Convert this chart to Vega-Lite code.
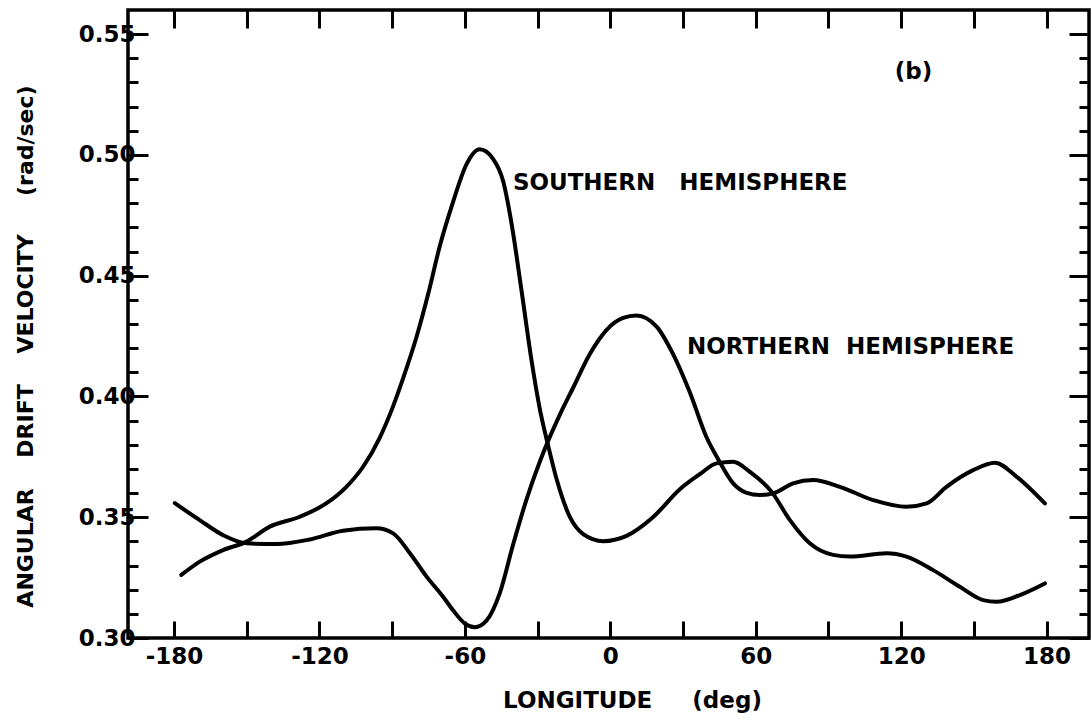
{
  "$schema": "https://vega.github.io/schema/vega-lite/v6.json",
  "width": 961,
  "height": 628,
  "autosize": "none",
  "padding": {"left": 128, "top": 10, "right": 2, "bottom": 83},
  "background": "white",
  "config": {
    "view": {"stroke": "black", "strokeWidth": 3.5},
    "font": "DejaVu Sans",
    "axis": {"domain": false, "grid": false, "tickColor": "black", "tickWidth": 3, "labelColor": "black", "titleColor": "black", "labelFont": "DejaVu Sans", "titleFont": "DejaVu Sans", "labelFontWeight": "bold", "titleFontWeight": "bold"}
  },
  "datasets": {
    "curves": [
      {"hemi": "N", "lon": -179.7, "val": 0.3558},
      {"hemi": "N", "lon": -169.4, "val": 0.3488},
      {"hemi": "N", "lon": -159.8, "val": 0.3426},
      {"hemi": "N", "lon": -150.1, "val": 0.3392},
      {"hemi": "N", "lon": -137.7, "val": 0.3389},
      {"hemi": "N", "lon": -124.0, "val": 0.3408},
      {"hemi": "N", "lon": -110.3, "val": 0.3444},
      {"hemi": "N", "lon": -96.5, "val": 0.3454},
      {"hemi": "N", "lon": -89.6, "val": 0.3433},
      {"hemi": "N", "lon": -82.7, "val": 0.3351},
      {"hemi": "N", "lon": -75.8, "val": 0.3254},
      {"hemi": "N", "lon": -69.0, "val": 0.3171},
      {"hemi": "N", "lon": -64.9, "val": 0.3115},
      {"hemi": "N", "lon": -60.0, "val": 0.3060},
      {"hemi": "N", "lon": -55.9, "val": 0.3045},
      {"hemi": "N", "lon": -51.1, "val": 0.3072},
      {"hemi": "N", "lon": -45.6, "val": 0.3186},
      {"hemi": "N", "lon": -40.1, "val": 0.3387},
      {"hemi": "N", "lon": -34.6, "val": 0.3573},
      {"hemi": "N", "lon": -29.1, "val": 0.3730},
      {"hemi": "N", "lon": -25.7, "val": 0.3815},
      {"hemi": "N", "lon": -20.8, "val": 0.3925},
      {"hemi": "N", "lon": -15.4, "val": 0.4035},
      {"hemi": "N", "lon": -8.5, "val": 0.4175},
      {"hemi": "N", "lon": -1.6, "val": 0.4275},
      {"hemi": "N", "lon": 5.3, "val": 0.4325},
      {"hemi": "N", "lon": 10.8, "val": 0.4335},
      {"hemi": "N", "lon": 19.1, "val": 0.4289},
      {"hemi": "N", "lon": 25.9, "val": 0.4175},
      {"hemi": "N", "lon": 32.8, "val": 0.4017},
      {"hemi": "N", "lon": 39.7, "val": 0.3831},
      {"hemi": "N", "lon": 44.5, "val": 0.3740},
      {"hemi": "N", "lon": 50.7, "val": 0.3640},
      {"hemi": "N", "lon": 56.0, "val": 0.3602},
      {"hemi": "N", "lon": 61.7, "val": 0.3592},
      {"hemi": "N", "lon": 67.2, "val": 0.3599},
      {"hemi": "N", "lon": 75.4, "val": 0.3640},
      {"hemi": "N", "lon": 83.7, "val": 0.3654},
      {"hemi": "N", "lon": 94.7, "val": 0.3626},
      {"hemi": "N", "lon": 108.4, "val": 0.3571},
      {"hemi": "N", "lon": 122.2, "val": 0.3543},
      {"hemi": "N", "lon": 130.5, "val": 0.3557},
      {"hemi": "N", "lon": 138.7, "val": 0.3626},
      {"hemi": "N", "lon": 149.7, "val": 0.3695},
      {"hemi": "N", "lon": 158.7, "val": 0.3726},
      {"hemi": "N", "lon": 167.6, "val": 0.3668},
      {"hemi": "N", "lon": 179.3, "val": 0.3557},
      {"hemi": "S", "lon": -177.0, "val": 0.3261},
      {"hemi": "S", "lon": -169.4, "val": 0.3316},
      {"hemi": "S", "lon": -159.8, "val": 0.3364},
      {"hemi": "S", "lon": -150.1, "val": 0.3399},
      {"hemi": "S", "lon": -140.5, "val": 0.3461},
      {"hemi": "S", "lon": -128.1, "val": 0.3502},
      {"hemi": "S", "lon": -117.1, "val": 0.3558},
      {"hemi": "S", "lon": -108.9, "val": 0.3626},
      {"hemi": "S", "lon": -102.0, "val": 0.3709},
      {"hemi": "S", "lon": -95.1, "val": 0.3830},
      {"hemi": "S", "lon": -89.6, "val": 0.3960},
      {"hemi": "S", "lon": -85.5, "val": 0.4075},
      {"hemi": "S", "lon": -80.0, "val": 0.4245},
      {"hemi": "S", "lon": -75.0, "val": 0.4430},
      {"hemi": "S", "lon": -70.4, "val": 0.4621},
      {"hemi": "S", "lon": -64.9, "val": 0.4805},
      {"hemi": "S", "lon": -59.3, "val": 0.4962},
      {"hemi": "S", "lon": -53.9, "val": 0.5023},
      {"hemi": "S", "lon": -48.4, "val": 0.4984},
      {"hemi": "S", "lon": -44.2, "val": 0.4891},
      {"hemi": "S", "lon": -40.8, "val": 0.4719},
      {"hemi": "S", "lon": -36.6, "val": 0.4436},
      {"hemi": "S", "lon": -32.5, "val": 0.4149},
      {"hemi": "S", "lon": -29.1, "val": 0.3949},
      {"hemi": "S", "lon": -25.7, "val": 0.3799},
      {"hemi": "S", "lon": -22.2, "val": 0.3659},
      {"hemi": "S", "lon": -16.7, "val": 0.3501},
      {"hemi": "S", "lon": -11.2, "val": 0.3430},
      {"hemi": "S", "lon": -3.0, "val": 0.3401},
      {"hemi": "S", "lon": 6.7, "val": 0.3423},
      {"hemi": "S", "lon": 17.7, "val": 0.3501},
      {"hemi": "S", "lon": 28.7, "val": 0.3616},
      {"hemi": "S", "lon": 36.9, "val": 0.3678},
      {"hemi": "S", "lon": 43.8, "val": 0.3723},
      {"hemi": "S", "lon": 50.7, "val": 0.3730},
      {"hemi": "S", "lon": 57.6, "val": 0.3688},
      {"hemi": "S", "lon": 66.5, "val": 0.3606},
      {"hemi": "S", "lon": 74.1, "val": 0.3488},
      {"hemi": "S", "lon": 82.3, "val": 0.3392},
      {"hemi": "S", "lon": 91.9, "val": 0.3344},
      {"hemi": "S", "lon": 98.8, "val": 0.3337},
      {"hemi": "S", "lon": 114.0, "val": 0.3351},
      {"hemi": "S", "lon": 122.2, "val": 0.3337},
      {"hemi": "S", "lon": 133.2, "val": 0.3281},
      {"hemi": "S", "lon": 144.2, "val": 0.3212},
      {"hemi": "S", "lon": 153.8, "val": 0.3157},
      {"hemi": "S", "lon": 159.4, "val": 0.3150},
      {"hemi": "S", "lon": 169.0, "val": 0.3178},
      {"hemi": "S", "lon": 179.3, "val": 0.3226}
    ],
    "notes": [
      {"label": "SOUTHERN\u00a0\u00a0\u00a0HEMISPHERE", "lon": -40.2, "val": 0.4883},
      {"label": "NORTHERN\u00a0\u00a0HEMISPHERE", "lon": 31.6, "val": 0.4204},
      {"label": "(b)", "lon": 117.4, "val": 0.5343}
    ]
  },
  "layer": [
    {
      "data": {"name": "curves"},
      "mark": {"type": "line", "interpolate": "monotone", "stroke": "black", "strokeWidth": 4, "strokeCap": "round"},
      "encoding": {
        "detail": {"field": "hemi"},
        "x": {"field": "lon", "type": "quantitative",
          "scale": {"domain": [-199, 197.5], "nice": false, "zero": false},
          "axis": {"orient": "bottom", "values": [-180, -150, -120, -90, -60, -30, 0, 30, 60, 90, 120, 150, 180],
            "labelExpr": "datum.value % 60 == 0 ? '' + datum.value : ''",
            "tickSize": -17, "labelPadding": 24, "labelFontSize": 23, "labelFlush": false, "labelOverlap": false,
            "title": "LONGITUDE\u00a0\u00a0\u00a0\u00a0\u00a0(deg)", "titleFontSize": 23, "titleX": 504, "titleY": 62, "titleBaseline": "middle"}},
        "y": {"field": "val", "type": "quantitative",
          "scale": {"domain": [0.30, 0.56], "nice": false, "zero": false},
          "axis": {"orient": "left", "values": [0.30, 0.31, 0.32, 0.33, 0.34, 0.35, 0.36, 0.37, 0.38, 0.39, 0.40, 0.41, 0.42, 0.43, 0.44, 0.45, 0.46, 0.47, 0.48, 0.49, 0.50, 0.51, 0.52, 0.53, 0.54, 0.55],
            "labelExpr": "round(datum.value * 100) % 5 == 0 ? format(datum.value, '.2f') : ''",
            "tickSize": {"condition": {"test": "round(datum.value * 100) % 5 == 0", "value": -20}, "value": -10},
            "labelPadding": 13, "labelFontSize": 23, "labelFlush": false, "labelOverlap": false, "labelBaseline": "middle",
            "title": "ANGULAR\u00a0\u00a0\u00a0\u00a0DRIFT\u00a0\u00a0\u00a0\u00a0VELOCITY\u00a0\u00a0\u00a0\u00a0\u00a0(rad/sec)", "titleFontSize": 22, "titleX": -103, "titleY": 336, "titleBaseline": "middle", "titleAlign": "center", "titleAngle": -90}}
      }
    },
    {
      "data": {"name": "notes"},
      "mark": {"type": "text", "align": "left", "baseline": "middle", "font": "DejaVu Sans", "fontWeight": "bold", "fontSize": 23, "fill": "black"},
      "encoding": {
        "text": {"field": "label"},
        "x": {"field": "lon", "type": "quantitative",
          "axis": {"orient": "top", "values": [-180, -150, -120, -90, -60, -30, 0, 30, 60, 90, 120, 150, 180], "labels": false, "tickSize": -18, "title": null}},
        "y": {"field": "val", "type": "quantitative",
          "axis": {"orient": "right", "values": [0.30, 0.31, 0.32, 0.33, 0.34, 0.35, 0.36, 0.37, 0.38, 0.39, 0.40, 0.41, 0.42, 0.43, 0.44, 0.45, 0.46, 0.47, 0.48, 0.49, 0.50, 0.51, 0.52, 0.53, 0.54, 0.55],
            "labels": false, "title": null,
            "tickSize": {"condition": {"test": "round(datum.value * 100) % 5 == 0", "value": -20}, "value": -10}}}
      }
    }
  ],
  "resolve": {"axis": {"x": "independent", "y": "independent"}}
}
